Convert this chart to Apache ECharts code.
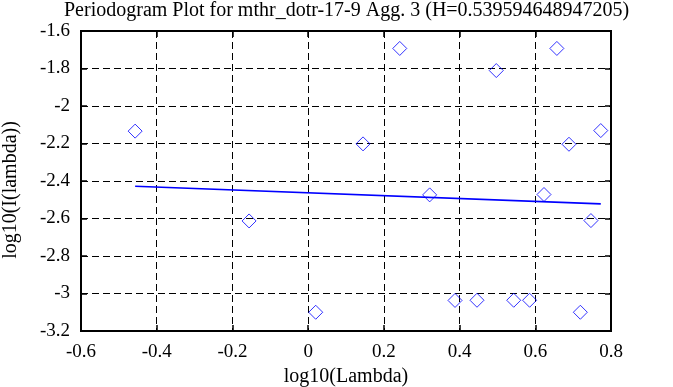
<!DOCTYPE html>
<html>
<head>
<meta charset="utf-8">
<script src="https://cdn.jsdelivr.net/npm/echarts@6/dist/echarts.min.js"></script>
<style>html,body{margin:0;padding:0;background:#fff}#c{width:673px;height:387px}</style>
</head>
<body>
<div id="c"></div>
<script>
var titleText = 'Periodogram Plot for mthr_dotr-17-9 Agg. 3 (H=0.539594648947205)';
var xName = 'log10(Lambda)';
var yName = 'log10(I(lambda))';
var logLambda = [-0.457, -0.156, 0.020, 0.145, 0.242, 0.321, 0.388, 0.446, 0.497, 0.543, 0.585, 0.623, 0.657, 0.689, 0.719, 0.747, 0.773];
var logI = [-2.134, -2.613, -3.100, -2.202, -1.693, -2.474, -3.037, -3.036, -1.811, -3.036, -3.036, -2.472, -1.693, -2.204, -3.100, -2.611, -2.131];
var fitX = [-0.457, 0.773];
var fitY = [-2.428, -2.522];
var xTicks = [-0.6, 0.8, 0.2];
var yTicks = [-3.2, -1.6, 0.2];

var FONT = 'Liberation Serif';
var chart = echarts.init(document.getElementById('c'), null, {renderer: 'canvas'});
function fmt(v){ return String(+v.toFixed(1)); }
var pts = logLambda.map(function(x, i){ return [x, logI[i]]; });
var fit = fitX.map(function(x, i){ return [x, fitY[i]]; });
var dash = [7, 4];
var tick = {show: true, inside: true, length: 6, lineStyle: {color: '#000', width: 1.5}};
chart.setOption({
  animation: false,
  backgroundColor: '#fff',
  title: {
    text: titleText, left: 64, top: 1, padding: 0,
    textStyle: {fontFamily: FONT, fontSize: 20, fontWeight: 'normal', color: '#000'}
  },
  grid: {left: 81, right: 62, top: 31, bottom: 56, show: true, borderColor: '#000', borderWidth: 2,
         backgroundColor: 'transparent', containLabel: false, outerBoundsMode: 'none'},
  xAxis: [{
    type: 'value', min: xTicks[0], max: xTicks[1], interval: xTicks[2],
    name: xName, nameLocation: 'middle', nameGap: 36,
    nameTextStyle: {fontFamily: FONT, fontSize: 20, color: '#000'},
    axisLine: {show: false, onZero: false},
    axisTick: tick,
    axisLabel: {formatter: fmt, fontFamily: FONT, fontSize: 19, color: '#000', margin: 12},
    splitLine: {show: true, lineStyle: {color: '#000', type: dash, width: 1}}
  }, {
    type: 'value', position: 'top', min: xTicks[0], max: xTicks[1], interval: xTicks[2],
    axisLine: {show: false, onZero: false},
    axisTick: tick,
    axisLabel: {show: false}, splitLine: {show: false}
  }],
  yAxis: [{
    type: 'value', min: yTicks[0], max: yTicks[1], interval: yTicks[2],
    name: yName, nameLocation: 'middle', nameGap: 60, nameRotate: 90,
    nameTextStyle: {fontFamily: FONT, fontSize: 20, color: '#000', padding: [0, 18, 0, 0]},
    axisLine: {show: false, onZero: false},
    axisTick: tick,
    axisLabel: {formatter: fmt, fontFamily: FONT, fontSize: 19, color: '#000', margin: 11},
    splitLine: {show: true, lineStyle: {color: '#000', type: dash, width: 1}}
  }, {
    type: 'value', position: 'right', min: yTicks[0], max: yTicks[1], interval: yTicks[2],
    axisLine: {show: false, onZero: false},
    axisTick: tick,
    axisLabel: {show: false}, splitLine: {show: false}
  }],
  series: [{
    type: 'scatter', data: pts, symbol: 'diamond', symbolSize: 14,
    itemStyle: {color: 'rgba(0,0,0,0)', borderColor: '#0000ff', borderWidth: 1}
  }, {
    type: 'line', data: fit, showSymbol: false, symbol: 'none',
    lineStyle: {color: '#0000ff', width: 1.6}
  }]
});
</script>
</body>
</html>
